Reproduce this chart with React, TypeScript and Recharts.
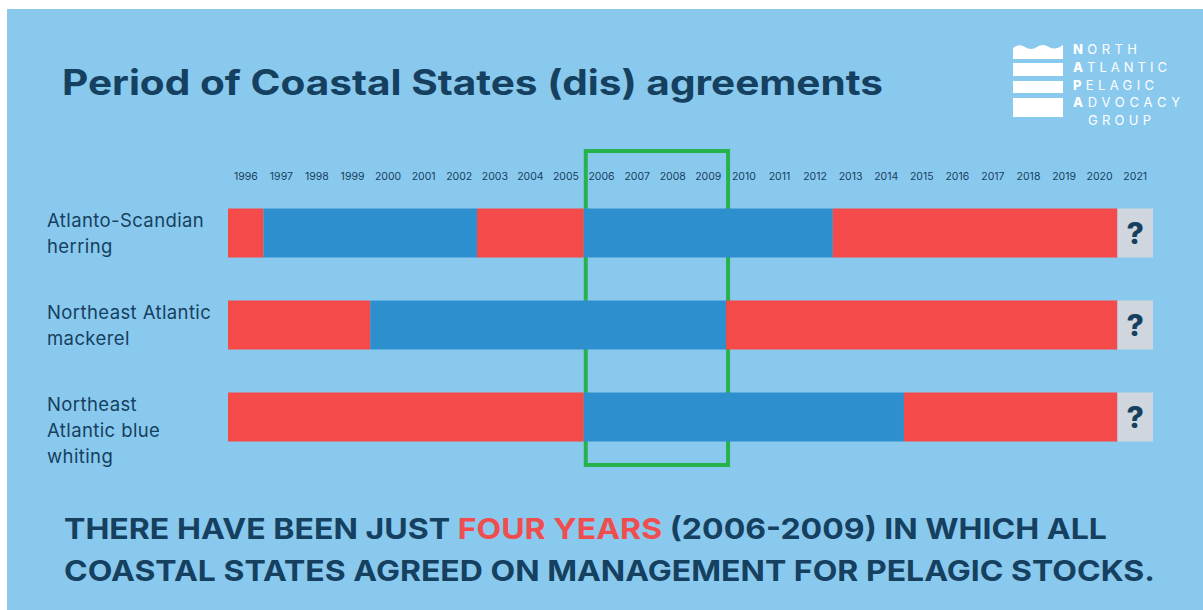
import React from "react";
import { BarChart, Bar, XAxis, YAxis, ReferenceArea } from "recharts";

// ---------- data ----------
const years = [
  "1996", "1997", "1998", "1999", "2000", "2001", "2002", "2003", "2004",
  "2005", "2006", "2007", "2008", "2009", "2010", "2011", "2012", "2013",
  "2014", "2015", "2016", "2017", "2018", "2019", "2020", "2021",
];

const stockNames = [
  "Atlanto-Scandian herring",
  "Northeast Atlantic mackerel",
  "Northeast Atlantic blue whiting",
];

const stockLabelLines = [
  ["Atlanto-Scandian", "herring"],
  ["Northeast Atlantic", "mackerel"],
  ["Northeast", "Atlantic blue", "whiting"],
];

// D = disagreement, A = agreement, ? = unknown (one value per year in `years`)
const herringStatus = [
  "D", "A", "A", "A", "A", "A", "A", "D", "D", "D", "A", "A", "A",
  "A", "A", "A", "A", "D", "D", "D", "D", "D", "D", "D", "D", "?",
];
const mackerelStatus = [
  "D", "D", "D", "D", "A", "A", "A", "A", "A", "A", "A", "A", "A",
  "A", "D", "D", "D", "D", "D", "D", "D", "D", "D", "D", "D", "?",
];
const blueWhitingStatus = [
  "D", "D", "D", "D", "D", "D", "D", "D", "D", "D", "A", "A", "A",
  "A", "A", "A", "A", "A", "A", "D", "D", "D", "D", "D", "D", "?",
];

const allAgreedFrom = "2006";
const allAgreedTo = "2009";

const titleText = "Period of Coastal States (dis) agreements";
const footerLine1a = "THERE HAVE BEEN JUST ";
const footerLine1b = "FOUR YEARS";
const footerLine1c = " (2006-2009) IN WHICH ALL";
const footerLine2 = "COASTAL STATES AGREED ON MANAGEMENT FOR PELAGIC STOCKS.";
const logoLines = ["NORTH", "ATLANTIC", "PELAGIC", "ADVOCACY", "GROUP"];

// ---------- styles ----------
const BG = "#8ac9ee";
const NAVY = "#15405f";
const STATUS_COLORS: Record<string, string> = {
  D: "#f44a4a",
  A: "#2e8fcf",
  "?": "#cfd6de",
};
const GREEN = "#27b34b";
const FONT = "Inter, 'Open Sans', sans-serif";

// ---------- build stacked runs ----------
function toRuns(status: string[]) {
  const runs: { status: string; count: number }[] = [];
  status.forEach((s) => {
    const last = runs[runs.length - 1];
    if (last && last.status === s) last.count += 1;
    else runs.push({ status: s, count: 1 });
  });
  return runs;
}

const statuses = [herringStatus, mackerelStatus, blueWhitingStatus];
const runsPerStock = statuses.map(toRuns);
const maxRuns = Math.max(...runsPerStock.map((r) => r.length));
const segKeys = Array.from({ length: maxRuns }, (_, k) => k);

const rows = stockNames.map((name, i) => {
  const row: Record<string, any> = { stock: name, lines: stockLabelLines[i] };
  segKeys.forEach((k) => {
    const run = runsPerStock[i][k];
    row[`seg${k}`] = run ? run.count : 0;
    row[`st${k}`] = run ? run.status : null;
  });
  return row;
});

const yearTicks = years.map((_, i) => i + 0.5);

function makeShape(k: number) {
  return (props: any) => {
    const { x, y, width, height, payload } = props;
    if (!width || width <= 0) return <g />;
    const st = payload ? payload[`st${k}`] : null;
    return (
      <g>
        <rect x={x} y={y} width={width} height={height} fill={STATUS_COLORS[st] || "none"} />
        {st === "?" && (
          <text
            x={x + width / 2}
            y={y + height / 2 + 11}
            textAnchor="middle"
            fontFamily={FONT}
            fontWeight={800}
            fontSize={30}
            fill={NAVY}
          >
            ?
          </text>
        )}
      </g>
    );
  };
}

const StockTick = (props: any) => {
  const { y, payload } = props;
  const row = rows.find((r) => r.stock === payload.value);
  const lines: string[] = row ? row.lines : [payload.value];
  return (
    <text x={47} y={y - 5.5} fontFamily={FONT} fontSize={18.5} letterSpacing={0.4} fill={NAVY} textAnchor="start">
      {lines.map((l, i) => (
        <tspan key={i} x={47} dy={i === 0 ? 0 : 26}>
          {l}
        </tspan>
      ))}
    </text>
  );
};

const FrameShape = (props: any) => {
  const { x, y, width, height } = props;
  return (
    <rect
      x={x + 2}
      y={y - 35.5}
      width={width}
      height={height + 38}
      fill="none"
      stroke={GREEN}
      strokeWidth={4}
    />
  );
};

const Logo = () => {
  const lengths = [64, 94, 81, 107, 63];
  const ys = [54, 72, 90, 107, 125];
  return (
    <g>
      <path
        d="M1013 48 Q1019 43 1025 47 Q1031 51 1037 47 Q1043 43 1049 47 Q1055 51 1063 45 L1063 59 L1013 59 Z"
        fill="#ffffff"
      />
      <rect x={1013} y={63} width={50} height={13} fill="#ffffff" />
      <rect x={1013} y={81} width={50} height={12} fill="#ffffff" />
      <rect x={1013} y={98} width={50} height={19} fill="#ffffff" />
      {logoLines.map((l, i) => (
        <text
          key={l}
          x={i === 4 ? 1088 : 1073}
          y={ys[i]}
          fontFamily={FONT}
          fontSize={13}
          fill="#ffffff"
          textLength={lengths[i]}
          lengthAdjust="spacing"
        >
          {i < 4 ? (
            <>
              <tspan fontWeight={800}>{l[0]}</tspan>
              <tspan fontWeight={400}>{l.slice(1)}</tspan>
            </>
          ) : (
            l
          )}
        </text>
      ))}
    </g>
  );
};

export default function App() {
  const x1 = years.indexOf(allAgreedFrom);
  const x2 = years.indexOf(allAgreedTo) + 1;
  return (
    <div style={{ position: "absolute", left: 0, top: 0, width: 1203, height: 610, background: "#ffffff", overflow: "hidden" }}>
      <div style={{ position: "absolute", left: 7, top: 9, width: 1196, height: 601, background: BG }} />
      <svg width={1203} height={610} style={{ position: "absolute", left: 0, top: 0 }}>
        <text
          x={62}
          y={95}
          fontFamily={FONT}
          fontWeight={700}
          fontSize={35}
          fill={NAVY}
          textLength={821}
          lengthAdjust="spacingAndGlyphs"
        >
          {titleText}
        </text>
        <text
          x={64}
          y={539}
          fontFamily={FONT}
          fontWeight={700}
          fontSize={29}
          fill={NAVY}
          textLength={1043}
          lengthAdjust="spacingAndGlyphs"
        >
          {footerLine1a}
          <tspan fill="#f04e4e">{footerLine1b}</tspan>
          {footerLine1c}
        </text>
        <text
          x={64}
          y={581}
          fontFamily={FONT}
          fontWeight={700}
          fontSize={29}
          fill={NAVY}
          textLength={1091}
          lengthAdjust="spacingAndGlyphs"
        >
          {footerLine2}
        </text>
        <Logo />
      </svg>
      <div style={{ position: "absolute", left: 0, top: 0 }}>
        <BarChart
          width={1203}
          height={610}
          data={rows}
          layout="vertical"
          margin={{ top: 156.5, right: 50, bottom: 147.5, left: 0 }}
          barCategoryGap={0}
        >
          <XAxis
            type="number"
            orientation="top"
            domain={[0, years.length]}
            ticks={yearTicks}
            interval={0}
            tickFormatter={(v: number) => years[Math.floor(v)]}
            axisLine={false}
            tickLine={false}
            tickSize={4}
            tickMargin={3}
            height={30}
            tick={{ fontSize: 10.5, fill: NAVY, fontFamily: FONT }}
          />
          <YAxis
            type="category"
            dataKey="stock"
            width={228}
            axisLine={false}
            tickLine={false}
            tick={<StockTick />}
            interval={0}
          />
          {segKeys.map((k) => (
            <Bar
              key={k}
              dataKey={`seg${k}`}
              stackId="s"
              barSize={49}
              isAnimationActive={false}
              shape={makeShape(k)}
            />
          ))}
          <ReferenceArea x1={x1} x2={x2} shape={<FrameShape />} ifOverflow="visible" />
        </BarChart>
      </div>
    </div>
  );
}
